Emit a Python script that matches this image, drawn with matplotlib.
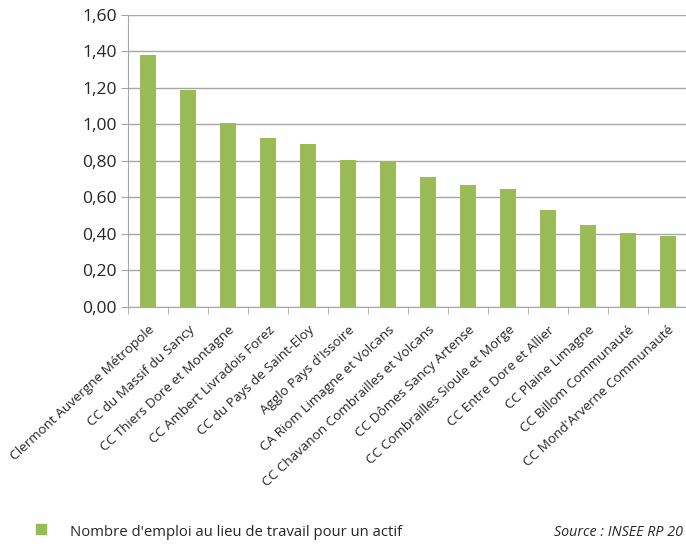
import numpy as np
import matplotlib.pyplot as plt
from matplotlib.ticker import FuncFormatter

plt.rcParams['font.family'] = ['Open Sans', 'DejaVu Sans']

# données
territoires = ["Clermont Auvergne Métropole", "CC du Massif du Sancy",
               "CC Thiers Dore et Montagne", "CC Ambert Livradois Forez",
               "CC du Pays de Saint-Eloy", "Agglo Pays d'Issoire",
               "CA Riom Limagne et Volcans", "CC Chavanon Combrailles et Volcans",
               "CC Dômes Sancy Artense", "CC Combrailles Sioule et Morge",
               "CC Entre Dore et Allier", "CC Plaine Limagne",
               "CC Billom Communauté", "CC Mond'Arverne Communauté"]
emploi_par_actif = [1.38, 1.19, 1.005, 0.927, 0.89, 0.805, 0.795,
                    0.71, 0.667, 0.646, 0.53, 0.45, 0.403, 0.388]
serie_label = "Nombre d'emploi au lieu de travail pour un actif"
source = "Source : INSEE RP 20"  # texte tronqué dans l'image d'origine

vert = '#9BBB59'
gris = '#a6a6a6'

fig = plt.figure(figsize=(6.86, 5.44), dpi=100)
W, H = 686, 544
ax = fig.add_axes([128 / W, (H - 306.7) / H, 560 / W, (306.7 - 15) / H])

x = np.arange(len(territoires))
ax.bar(x, emploi_par_actif, width=0.39, color=vert, zorder=3)

ax.set_xlim(-0.5, len(territoires) - 0.5)
ax.set_ylim(0, 1.6)
ax.set_yticks(np.arange(0, 1.61, 0.2))
ax.yaxis.set_major_formatter(FuncFormatter(lambda v, p: ('%.2f' % v).replace('.', ',')))
ax.grid(axis='y', color=gris, linewidth=1, zorder=0)

for s in ['top', 'right']:
    ax.spines[s].set_visible(False)
ax.spines['left'].set_color(gris)
ax.spines['bottom'].set_color(gris)

ax.tick_params(axis='y', length=5, color=gris, labelsize=12.6, labelcolor='#262626', pad=3)
ax.set_xticks(x)
ax.set_xticklabels(territoires, rotation=43, ha='right', rotation_mode='anchor',
                   fontsize=9.7, color='#262626')
ax.tick_params(axis='x', length=0, pad=12)
ax.set_xticks(np.arange(-0.5, len(territoires), 1), minor=True)
ax.tick_params(axis='x', which='minor', length=5, color=gris)

# légende en bas
fig.patches.append(plt.Rectangle((36 / W, (H - 534) / H), 10 / W, 10 / H,
                                 transform=fig.transFigure, color=vert))
fig.text(70 / W, (H - 532) / H, serie_label, fontsize=10.7, color='#262626', va='center')
fig.text(683 / W, (H - 532) / H, source, fontsize=10.3, style='italic',
         color='#262626', va='center', ha='right')

fig.savefig('out.png', dpi=100)
